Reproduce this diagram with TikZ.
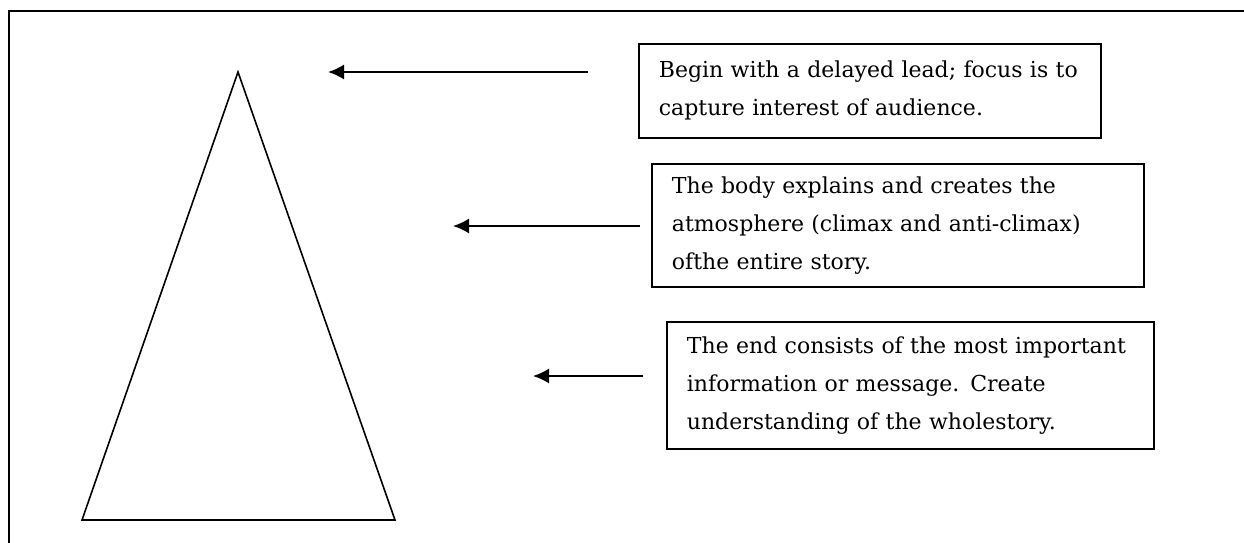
\documentclass[tikz,border=0pt]{standalone}
\usepackage{fontspec}
\setmainfont{DejaVu Serif}
\usetikzlibrary{arrows.meta,positioning}
\tikzset{>={Latex[width=15pt,length=16pt]}}
\tikzset{note/.style={shape=rectangle, draw, line width=1.8pt, anchor=north west,
    inner xsep=20pt, inner ysep=0pt, align=left,
    font=\fontsize{22}{38}\selectfont}}
\tikzset{pointer/.style={->, line width=1.8pt}}

\begin{document}
\begin{tikzpicture}[x=1pt, y=-1pt]
    \useasboundingbox (0,0) rectangle (1244,543);
    % open frame
    \draw[line width=1.8pt] (9,543) -- (9,11) -- (1244,11);

    % pyramid
    \coordinate (top) at (238,72);
    \coordinate (bl) at (82,520);
    \coordinate (br) at (395,520);
    \draw[line width=1.6pt] (top) -- (br) -- (bl) -- cycle;

    \node[note, minimum width=462pt, minimum height=94pt, text width=422pt]
      (lead) at (638,43) {Begin with a delayed lead; focus is to\\
      capture interest of audience.};
    \node[note, minimum width=492pt, minimum height=123pt, text width=452pt]
      (body) at (651,163) {The body explains and creates the\\
      atmosphere (climax and anti-climax)\\ ofthe entire story.};
    \node[note, minimum width=487pt, minimum height=127pt, text width=447pt]
      (end) at (666,321) {The end consists of the most important\\
      information or message. Create\\ understanding of the wholestory.};

    \coordinate (lead') at (588,72);
    \coordinate (body') at (640,226);
    \coordinate (end') at (643,376);
    \coordinate (leadtip) at (328,72);
    \coordinate (bodytip) at (453,226);
    \coordinate (endtip) at (533,376);
    \foreach \a in {lead,body,end}
      \draw[pointer] (\a') -- (\a tip);
\end{tikzpicture}
\end{document}
